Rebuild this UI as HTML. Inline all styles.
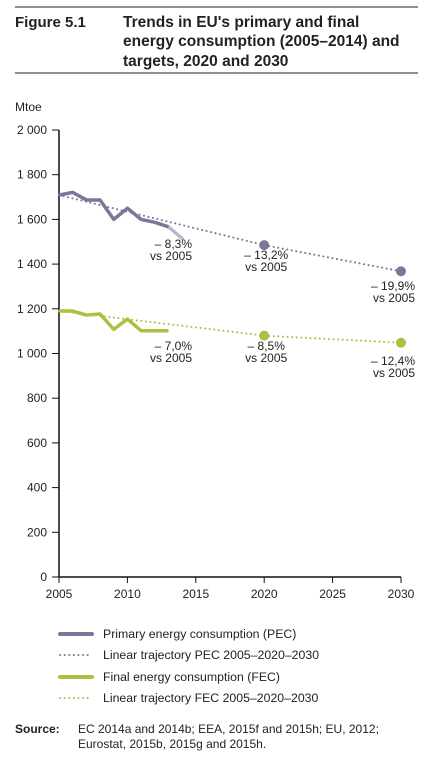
<!DOCTYPE html>
<html><head><meta charset="utf-8"><style>
body{margin:0;background:#fff;width:440px;height:769px;overflow:hidden;font-family:"Liberation Sans",sans-serif;color:#222}
</style></head><body>
<svg width="440" height="769" viewBox="0 0 440 769" xmlns="http://www.w3.org/2000/svg" id="svg" style="font-family:'Liberation Sans',sans-serif">
<line x1="15" y1="7" x2="418" y2="7" stroke="#222" stroke-width="1"/>
<line x1="15" y1="73" x2="418" y2="73" stroke="#222" stroke-width="1"/>
<text x="15" y="27" font-size="15" font-weight="bold" fill="#222">Figure 5.1</text>
<text font-size="15.5" font-weight="bold" fill="#222"><tspan x="123" y="27">Trends in EU's primary and final</tspan><tspan x="123" y="46">energy consumption (2005–2014) and</tspan><tspan x="123" y="66">targets, 2020 and 2030</tspan></text>
<text x="15" y="111" font-size="12" fill="#222">Mtoe</text>
<g id="chart"></g>
<g font-size="12.3" fill="#222">
<line x1="60" y1="634" x2="92" y2="634" stroke="#7a7898" stroke-width="4" stroke-linecap="round"/>
<text x="103" y="638">Primary energy consumption (PEC)</text>
<line x1="60" y1="655" x2="92" y2="655" stroke="#7a7898" stroke-width="2" stroke-linecap="round" stroke-dasharray="0.1 4.5"/>
<text x="103" y="659">Linear trajectory PEC 2005–2020–2030</text>
<line x1="60" y1="677" x2="92" y2="677" stroke="#a9c23f" stroke-width="4" stroke-linecap="round"/>
<text x="103" y="681">Final energy consumption (FEC)</text>
<line x1="60" y1="698" x2="92" y2="698" stroke="#a9c23f" stroke-width="2" stroke-linecap="round" stroke-dasharray="0.1 4.5"/>
<text x="103" y="702">Linear trajectory FEC 2005–2020–2030</text>
</g>
<text x="15" y="733" font-size="12" font-weight="bold" fill="#222">Source:</text>
<text font-size="12" fill="#222"><tspan x="78" y="733">EC 2014a and 2014b; EEA, 2015f and 2015h; EU, 2012;</tspan><tspan x="78" y="748">Eurostat, 2015b, 2015g and 2015h.</tspan></text>
</svg>
<script>
const pecYears=[2005,2006,2007,2008,2009,2010,2011,2012,2013];
const pecValues=[1709,1721,1687,1687,1600,1650,1600,1587,1567];
const pecProvYears=[2013,2014];
const pecProvValues=[1567,1515];
const fecYears=[2005,2006,2007,2008,2009,2010,2011,2012,2013];
const fecValues=[1190,1190,1172,1177,1108,1154,1102,1102,1102];
const trajYears=[2005,2020,2030];
const pecTraj=[1709,1485,1368];
const fecTraj=[1190,1080,1048];
const pecLabels=["– 8,3%","– 13,2%","– 19,9%"];
const fecLabels=["– 7,0%","– 8,5%","– 12,4%"];
const yTicks=[0,200,400,600,800,1000,1200,1400,1600,1800,2000];
const yTickLabels=["0","200","400","600","800","1 000","1 200","1 400","1 600","1 800","2 000"];
const xTicks=[2005,2010,2015,2020,2025,2030];

const NS="http://www.w3.org/2000/svg";
const g=document.getElementById('chart');
const X=y=>59+(y-2005)*(401-59)/25;
const Y=v=>577-v*(577-130)/2000;
function mk(t,a,parent){const e=document.createElementNS(NS,t);for(const k in a)e.setAttribute(k,a[k]);(parent||g).appendChild(e);return e;}
function pts(xs,vs){return xs.map((x,i)=>X(x)+','+Y(vs[i])).join(' ');}

let e;
e=mk('line',{x1:59,y1:130,x2:59,y2:577,stroke:'#111','stroke-width':1.5});


e=mk('line',{x1:59,y1:577,x2:401,y2:577,stroke:'#111','stroke-width':1.5});


yTicks.forEach((v,i)=>{
 e=mk('line',{x1:52,y1:Y(v),x2:59,y2:Y(v),stroke:'#111','stroke-width':1});
 
 
 e=mk('text',{x:47,y:Y(v)+4,'font-size':12,'text-anchor':'end',fill:'#222'});
 e.textContent=yTickLabels[i];
 
 
});
xTicks.forEach(v=>{
 e=mk('line',{x1:X(v),y1:577,x2:X(v),y2:583,stroke:'#111','stroke-width':1});
 
 
 e=mk('text',{x:X(v),y:598,'font-size':12,'text-anchor':'middle',fill:'#222'});
 e.textContent=v;
 
 
});
e=mk('polyline',{points:pts(trajYears,pecTraj),fill:'none',stroke:'#7a7898','stroke-width':2,'stroke-linecap':'round','stroke-dasharray':'0.1 4.5'});


e=mk('polyline',{points:pts(trajYears,fecTraj),fill:'none',stroke:'#a9c23f','stroke-width':2,'stroke-linecap':'round','stroke-dasharray':'0.1 4.5'});


e=mk('polyline',{points:pts(pecProvYears,pecProvValues),fill:'none',stroke:'#b9b7cc','stroke-width':3.5,'stroke-linecap':'round'});


e=mk('polyline',{points:pts(pecYears,pecValues),fill:'none',stroke:'#7a7898','stroke-width':3.5,'stroke-linejoin':'round'});


e=mk('polyline',{points:pts(fecYears,fecValues),fill:'none',stroke:'#a9c23f','stroke-width':3.5,'stroke-linejoin':'round'});


[1,2].forEach(i=>{
 e=mk('circle',{cx:X(trajYears[i]),cy:Y(pecTraj[i]),r:5,fill:'#7a7898'});
 
 
 e=mk('circle',{cx:X(trajYears[i]),cy:Y(fecTraj[i]),r:5,fill:'#a9c23f'});
 
 
});
function label(x,y,txt,anchor,name){
 e=mk('text',{x:x,y:y,'font-size':12,'text-anchor':anchor,fill:'#222'});
 
 
 const a=mk('tspan',{x:x,dy:0},e);a.textContent=txt;
 const b=mk('tspan',{x:x,dy:12},e);b.textContent='vs 2005';
}
label(192,248,pecLabels[0],'end','pec-2014-annotation');
label(X(2020)+2,259,pecLabels[1],'middle','pec-2020-annotation');
label(415,290,pecLabels[2],'end','pec-2030-annotation');
label(192,350,fecLabels[0],'end','fec-2013-annotation');
label(X(2020)+2,350,fecLabels[1],'middle','fec-2020-annotation');
label(415,365,fecLabels[2],'end','fec-2030-annotation');
</script>
</body></html>
